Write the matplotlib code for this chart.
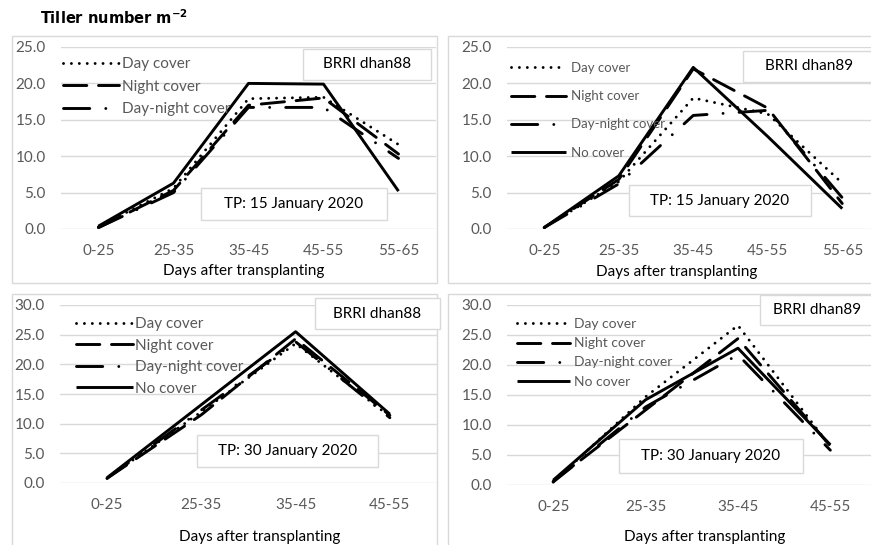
import matplotlib
matplotlib.use("Agg")
import matplotlib.pyplot as plt
from matplotlib.patches import Rectangle

plt.rcParams['font.family'] = ['Lato', 'DejaVu Sans']
plt.rcParams['mathtext.fontset'] = 'dejavusans'

# ---------------- data ----------------
cats_15 = ["0-25", "25-35", "35-45", "45-55", "55-65"]
cats_30 = ["0-25", "25-35", "35-45", "45-55"]
series_names = ["Day cover", "Night cover", "Day-night cover", "No cover"]

# BRRI dhan88, TP 15 January 2020
tl_day = [0.3, 5.6, 17.9, 18.1, 11.6]
tl_night = [0.2, 5.3, 17.0, 18.0, 10.3]
tl_daynight = [0.2, 5.0, 16.7, 16.7, 9.7]
tl_nocover = [0.4, 6.3, 20.0, 19.9, 5.2]

# BRRI dhan89, TP 15 January 2020
tr_day = [0.2, 6.5, 18.0, 15.8, 6.3]
tr_night = [0.2, 6.8, 22.0, 16.6, 3.5]
tr_daynight = [0.2, 6.2, 15.6, 16.3, 4.3]
tr_nocover = [0.2, 7.3, 22.2, 12.7, 2.8]

# BRRI dhan88, TP 30 January 2020
bl_day = [0.8, 12.0, 23.5, 11.2]
bl_night = [0.8, 11.5, 24.3, 11.4]
bl_daynight = [0.8, 12.3, 23.8, 11.0]
bl_nocover = [0.9, 13.2, 25.5, 11.6]

# BRRI dhan89, TP 30 January 2020
br_day = [0.5, 14.7, 26.6, 6.4]
br_night = [0.6, 12.5, 24.4, 6.5]
br_daynight = [0.5, 13.0, 21.7, 5.8]
br_nocover = [0.8, 14.2, 22.8, 6.7]

W, H = 871, 545
fig = plt.figure(figsize=(W / 100, H / 100), dpi=100)

GRID = "#d9d9d9"
TXT = "#595959"

def frac_rect(x0, y0, x1, y1):
    return [x0 / W, 1 - y1 / H, (x1 - x0) / W, (y1 - y0) / H]

def frame(x0, y0, x1, y1):
    fig.patches.append(Rectangle((x0 / W, 1 - y1 / H), (x1 - x0) / W, (y1 - y0) / H,
                                 transform=fig.transFigure, facecolor="none",
                                 edgecolor=GRID, lw=1.0, zorder=-1))

def textbox(x0, y0, x1, y1, s, fs=11):
    fig.patches.append(Rectangle((x0 / W, 1 - y1 / H), (x1 - x0) / W, (y1 - y0) / H,
                                 transform=fig.transFigure, facecolor="white",
                                 edgecolor=GRID, lw=1.0, zorder=5))
    fig.text((x0 + x1) / 2 / W, 1 - (y0 + y1) / 2 / H, s, ha="center", va="center",
             fontsize=fs, color="black", zorder=6)

styles = [
    dict(ls=(0, (0.01, 2.7)), dash_capstyle="round"),
    dict(ls=(0, (8, 4)), dash_capstyle="round"),
    dict(ls=(0, (9, 5.5, 0.01, 5.5)), dash_capstyle="round"),
    dict(ls="-", solid_capstyle="butt"),
]

# outer frames
frame(12, 36, 437, 283)
frame(448, 36, 875, 283)
frame(12, 294, 437, 550)
frame(448, 294, 875, 550)

def panel(rect, cats, data, ymax, xright, leg_n, leg_anchor, leg_fs, leg_hl, leg_ls, leg_tp,
          xlab_xy):
    ax = fig.add_axes(frac_rect(*rect))
    ax.set_facecolor("none")
    x = list(range(len(cats)))
    handles = []
    for vals, name, st in zip(data, series_names, styles):
        ln, = ax.plot(x, vals, color="black", lw=2.1, label=name, zorder=3, **st)
        handles.append(ln)
    ax.set_xlim(-0.5, xright)
    ax.set_ylim(0, ymax)
    ax.set_yticks(list(range(0, ymax + 1, 5)))
    ax.set_yticklabels([f"{v:.1f}" for v in range(0, ymax + 1, 5)])
    ax.set_xticks(x)
    ax.set_xticklabels(cats)
    ax.yaxis.grid(True, color=GRID, lw=1.0)
    ax.set_axisbelow(True)
    for s in ax.spines.values():
        s.set_visible(False)
    ax.tick_params(axis="both", length=0, labelsize=11, labelcolor=TXT)
    ax.tick_params(axis="x", pad=11)
    ax.tick_params(axis="y", pad=11)
    ax.legend(handles=handles[:leg_n], loc="upper left", bbox_to_anchor=leg_anchor,
              frameon=False, fontsize=leg_fs, labelcolor=TXT, handlelength=leg_hl,
              labelspacing=leg_ls, handletextpad=leg_tp, borderpad=0, borderaxespad=0)
    fig.text(xlab_xy[0] / W, 1 - xlab_xy[1] / H, "Days after transplanting",
             ha="center", va="center", fontsize=11, color="black")
    return ax

panel((61, 47, 436, 229), cats_15, [tl_day, tl_night, tl_daynight, tl_nocover], 25, 4.5,
      3, (0.005, 0.943), 11, 3.7, 0.55, 0.15, (244, 271))
panel((507, 47, 871, 229), cats_15, [tr_day, tr_night, tr_daynight, tr_nocover], 25, 4.386,
      4, (0.01, 0.918), 9.5, 4.2, 1.23, 0.4, (677, 272))
panel((60, 305, 437, 483), cats_30, [bl_day, bl_night, bl_daynight, bl_nocover], 30, 3.5,
      4, (0.043, 0.933), 11, 3.7, 0.5, 0.13, (260, 537))
panel((507, 305, 871, 485), cats_30, [br_day, br_night, br_daynight, br_nocover], 30, 3.44,
      4, (0.027, 0.926), 10, 3.8, 0.51, 0.35, (705, 537))

# annotation boxes
textbox(303, 49, 431, 80, "BRRI dhan88")
textbox(201, 188, 387, 220, "TP: 15 January 2020")
textbox(743, 51, 875, 82, "BRRI dhan89")
textbox(629, 185, 811, 216, "TP: 15 January 2020")
textbox(315, 298, 440, 329, "BRRI dhan88")
textbox(197, 435, 378, 467, "TP: 30 January 2020")
textbox(760, 295, 875, 325, "BRRI dhan89")
textbox(619, 439, 803, 473, "TP: 30 January 2020")

# y-axis title
fig.text(40 / W, 1 - 18 / H, r"Tiller number m$^{\mathbf{-2}}$", ha="left", va="center",
         fontsize=10.5, fontweight="bold", color="black", family="DejaVu Sans")

fig.savefig("out.png", dpi=100)
